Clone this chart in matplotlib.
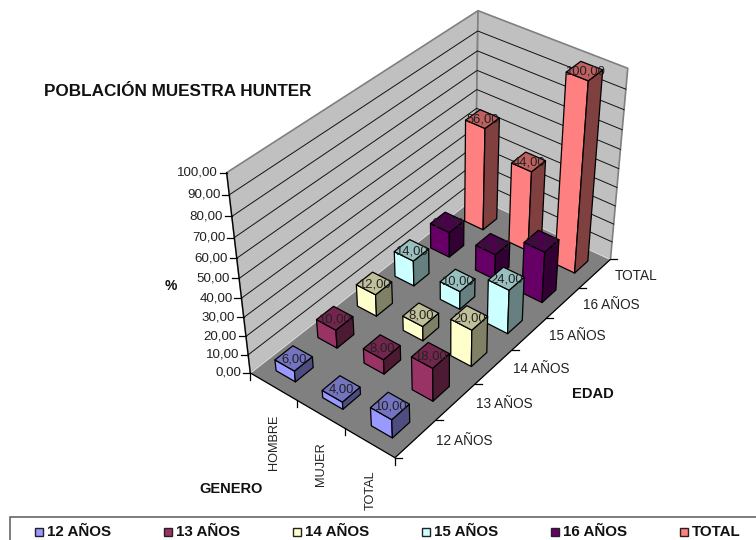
import numpy as np
from matplotlib import pyplot as plt
from matplotlib.patches import Polygon, Rectangle

plt.rcParams["font.family"] = ["Liberation Sans", "DejaVu Sans"]

generos = ["HOMBRE", "MUJER", "TOTAL"]
edades = ["12 AÑOS", "13 AÑOS", "14 AÑOS", "15 AÑOS", "16 AÑOS", "TOTAL"]
pct_12 = [6, 4, 10]
pct_13 = [10, 8, 18]
pct_14 = [12, 8, 20]
pct_15 = [14, 10, 24]
pct_16 = [14, 14, 28]
pct_total = [56, 44, 100]
series = [pct_12, pct_13, pct_14, pct_15, pct_16, pct_total]
colores = ["#9999FF", "#993366", "#FFFFCC", "#CCFFFF", "#660066", "#FF8080"]
z_ticks = list(range(0, 101, 10))

# box corners as seen in the picture, used to fit the 3D view
box = np.array([[0, 0, 0], [1, 0, 0], [1, 1, 0], [0, 1, 0],
                [0, 0, 1], [1, 1, 1], [0, 1, 1], [0, 0, .5]], dtype=float)
screen = np.array([[250.7, 373], [395, 457.7], [610, 259.3], [476, 197],
                   [227.7, 172.7], [628.3, 68.3], [477.3, 10.7], [237.7, 278.3]]) / 1000


def fit_view():
    rows = []
    for (x, y, z), (u, v) in zip(box, screen):
        rows.append([x, y, z, 1, 0, 0, 0, 0, -u * x, -u * y, -u * z, -u])
        rows.append([0, 0, 0, 0, x, y, z, 1, -v * x, -v * y, -v * z, -v])
    return np.linalg.svd(np.array(rows))[2][-1].reshape(3, 4)


P = fit_view()


def proj(x, y, z):
    h = P @ np.array([x, y, z, 1.0])
    return h[0] / h[2] * 1000, h[1] / h[2] * 1000


def shade(color, k):
    rgb = np.array(plt.matplotlib.colors.to_rgb(color))
    return tuple(rgb * k)


def face(ax, pts, color, ec="black", lw=0.9, zorder=1):
    ax.add_patch(Polygon([proj(*p) for p in pts], closed=True, fc=color, ec=ec, lw=lw,
                         joinstyle="round", zorder=zorder))


def bar(ax, i, j, value, color):
    f = 0.42
    x0, x1 = (i + .5 - f / 2) / 3, (i + .5 + f / 2) / 3
    y0, y1 = (j + .5 - f / 2) / 6, (j + .5 + f / 2) / 6
    z = value / 100
    face(ax, [(x0, y0, 0), (x1, y0, 0), (x1, y0, z), (x0, y0, z)], color, zorder=3)
    face(ax, [(x1, y0, 0), (x1, y1, 0), (x1, y1, z), (x1, y0, z)], shade(color, .5), zorder=3)
    face(ax, [(x0, y0, z), (x1, y0, z), (x1, y1, z), (x0, y1, z)], shade(color, .75), zorder=3)
    cx, cy = proj((x0 + x1) / 2, (y0 + y1) / 2, z)
    labels.append((cx, cy + 1, "{:.2f}".format(value).replace(".", ",")))


fig = plt.figure(figsize=(7.56, 5.4), dpi=100)
ax = fig.add_axes([0, 0, 1, 1])
ax.set_xlim(0, 756)
ax.set_ylim(540, 0)
ax.axis("off")

# walls and floor
face(ax, [(0, 0, 0), (0, 1, 0), (0, 1, 1), (0, 0, 1)], "#C0C0C0", "#808080", 1.2)
face(ax, [(0, 1, 0), (1, 1, 0), (1, 1, 1), (0, 1, 1)], "#C0C0C0", "#808080", 1.2)
face(ax, [(0, 0, 0), (1, 0, 0), (1, 1, 0), (0, 1, 0)], "#808080", "#808080", 0.5)
for a, b in [((0, 0, 0), (0, 1, 0)), ((0, 1, 0), (1, 1, 0))]:
    ax.plot(*zip(proj(*a), proj(*b)), color="#D4D4D4", lw=1.2, zorder=1.5)

# gridlines and value axis
for t in z_ticks[1:-1]:
    z = t / 100
    ax.plot(*zip(proj(0, 0, z), proj(0, 1, z), proj(1, 1, z)), color="#111111", lw=0.7, zorder=2)
ax.plot(*zip(proj(0, 0, 0), proj(0, 0, 1)), color="black", lw=0.9, zorder=2)
for t in z_ticks:
    px, py = proj(0, 0, t / 100)
    ax.plot([px - 7, px], [py, py], color="black", lw=0.9, zorder=2)
    ax.text(px - 9, py, "{:.2f}".format(t).replace(".", ","), ha="right", va="center", fontsize=9.6, color="#222222")

# category axes
ax.plot(*zip(proj(0, 0, 0), proj(1, 0, 0), proj(1, 1, 0)), color="black", lw=0.9, zorder=2)
for i in range(4):
    px, py = proj(i / 3, 0, 0)
    ax.plot([px, px], [py, py + 7], color="black", lw=0.9, zorder=2)
for j in range(7):
    px, py = proj(1, j / 6, 0)
    ax.plot([px, px + 7], [py, py], color="black", lw=0.9, zorder=2)
for i, name in enumerate(generos):
    px, py = proj((i + .5) / 3, 0, 0)
    ax.text(px + 1, py + 28, name, rotation=90, ha="center", va="top", fontsize=9.2, color="#222222")
for j, name in enumerate(edades):
    px, py = proj(1, (j + .5) / 6, 0)
    ax.text(px + 20, py + 2, name, ha="left", va="center", fontsize=9.8, color="#222222")

# bars, back row first
labels = []
for j in range(5, -1, -1):
    for i in range(3):
        bar(ax, i, j, series[j][i], colores[j])
for cx, cy, s in labels:
    ax.text(cx, cy, s, ha="center", va="center", fontsize=9.4, color="#222222", zorder=5)

ax.text(178, 92, "POBLACIÓN MUESTRA HUNTER", ha="center", va="center", fontsize=12.3, fontweight="bold", color="#111111")
ax.text(171, 286, "%", ha="center", va="center", fontsize=10, fontweight="bold", color="#111111")
ax.text(593, 394, "EDAD", ha="center", va="center", fontsize=10.6, fontweight="bold", color="#111111")
ax.text(231, 489, "GENERO", ha="center", va="center", fontsize=10.5, fontweight="bold", color="#111111")

# legend box runs off the bottom and right of the figure
ax.add_patch(Rectangle((10, 517), 760, 40, fc="white", ec="#666666", lw=1.2, zorder=4))
for j, name in enumerate(edades):
    lx = 35 + 129 * j
    ax.add_patch(Rectangle((lx, 528), 8, 8, fc=colores[j], ec="#222222", lw=1, zorder=5))
    ax.text(lx + 12, 532, name, ha="left", va="center", fontsize=10.9, fontweight="bold", color="#111111", zorder=5)

fig.savefig("out.png", dpi=100)
